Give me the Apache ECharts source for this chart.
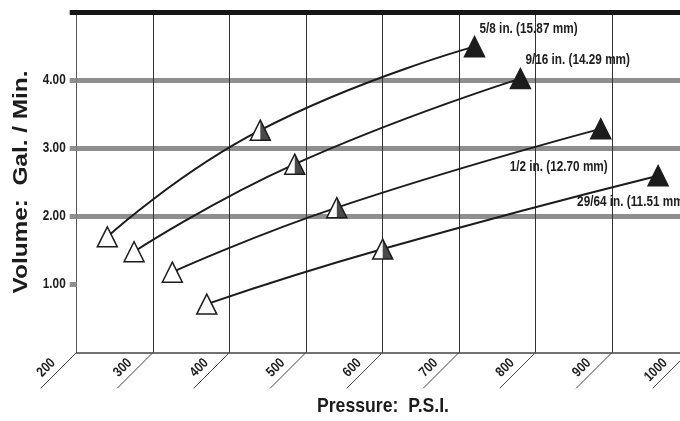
<!DOCTYPE html>
<html>
<head>
<meta charset="utf-8">
<script src="https://cdn.jsdelivr.net/npm/echarts@6/dist/echarts.min.js"></script>
<style>
  html, body { margin: 0; padding: 0; background: #fff; }
  #chart { width: 680px; height: 421px; }
</style>
</head>
<body>
<div id="chart"></div>
<script>
// Axis ticks
const pressureTicks = [200, 300, 400, 500, 600, 700, 800, 900, 1000];
const volumeTicks = [1, 2, 3, 4];

// Nozzle sizes
const nozzleNames = ['5/8 in. (15.87 mm)', '9/16 in. (14.29 mm)', '1/2 in. (12.70 mm)', '29/64 in. (11.51 mm)'];

// Flow readings per nozzle (P.S.I. vs Gal./Min.)
const pressure58 = [240, 440, 720];
const volume58 = [1.70, 3.27, 4.50];
const pressure916 = [275, 485, 780];
const volume916 = [1.48, 2.77, 4.03];
const pressure12 = [325, 540, 885];
const volume12 = [1.18, 2.13, 3.29];
const pressure2964 = [370, 600, 960];
const volume2964 = [0.71, 1.52, 2.60];

const pressures = [pressure58, pressure916, pressure12, pressure2964];
const volumes = [volume58, volume916, volume12, volume2964];

const SANS = '"Liberation Sans", Arial, sans-serif';
const INK = '#1c1c1c';
const BAND = '#8f8f8f';
const CONDENSE = 0.84; // horizontal squeeze to get a condensed bold face

// where each nozzle caption sits relative to its last marker
const captionPlacement = [
  { align: 'left', offset: [5, -18] },
  { align: 'left', offset: [5, -18] },
  { align: 'right', offset: [7, 38] },
  { align: 'left', offset: [-81, 26] }
];

function condensedText(x, y, text, align, size, rotation) {
  return {
    type: 'text',
    x: x,
    y: y,
    rotation: rotation || 0,
    scaleX: CONDENSE,
    style: {
      text: text,
      align: align,
      verticalAlign: 'middle',
      fontFamily: SANS,
      fontWeight: 'bold',
      fontSize: size,
      fill: INK
    }
  };
}

const series = [];

nozzleNames.forEach((name, i) => {
  const pts = pressures[i].map((p, k) => [p, volumes[i][k]]);
  const last = pts.length - 1;
  series.push({
    type: 'line',
    name: name,
    z: 2,
    smooth: 0.5,
    symbol: 'triangle',
    symbolSize: [20, 20],
    showAllSymbol: true,
    lineStyle: { color: INK, width: 2 },
    itemStyle: { color: '#fff', borderColor: INK, borderWidth: 1.5 },
    data: pts.map((pt, k) => (k === last ? { value: pt, itemStyle: { color: INK } } : { value: pt }))
  });
  // right half of the middle marker is filled
  series.push({
    type: 'scatter',
    z: 3,
    symbol: 'path://M0,0 L1,2 L0,2 Z',
    symbolSize: [10, 20],
    symbolOffset: [5, 0],
    itemStyle: { color: INK },
    data: [pts[1]]
  });
});

// nozzle captions beside the last reading of each curve
series.push({
  type: 'custom',
  z: 4,
  silent: true,
  data: nozzleNames.map((n, i) => [pressures[i][pressures[i].length - 1], volumes[i][volumes[i].length - 1], i]),
  renderItem: function (params, api) {
    const i = api.value(2);
    const p = api.coord([api.value(0), api.value(1)]);
    const pl = captionPlacement[i];
    return condensedText(p[0] + pl.offset[0], p[1] + pl.offset[1], nozzleNames[i], pl.align, 14);
  }
});

// slanted tick marks and rotated pressure labels along the bottom
series.push({
  type: 'custom',
  z: 1,
  silent: true,
  data: pressureTicks.map(v => [v, 0]),
  renderItem: function (params, api) {
    const v = api.value(0);
    const p = api.coord([v, 0]);
    return {
      type: 'group',
      children: [
        {
          type: 'line',
          shape: { x1: p[0], y1: p[1], x2: p[0] - 36, y2: p[1] + 36 },
          style: { stroke: '#444', lineWidth: 1 }
        },
        condensedText(p[0] - 23.5, p[1] + 8.5, String(v), 'right', 14, Math.PI / 4)
      ]
    };
  }
});

// volume labels left of the axis
series.push({
  type: 'custom',
  z: 1,
  silent: true,
  data: volumeTicks.map(v => [pressureTicks[0], v]),
  renderItem: function (params, api) {
    const v = api.value(1);
    const p = api.coord([api.value(0), v]);
    return condensedText(p[0] - 11, p[1], v.toFixed(2), 'right', 14);
  }
});

const chart = echarts.init(document.getElementById('chart'), null, { renderer: 'canvas' });
chart.setOption({
  animation: false,
  backgroundColor: '#fff',
  grid: { left: 76.7, top: 12.7, width: 612, height: 339.6, containLabel: false, outerBoundsMode: 'none' },
  xAxis: [
    {
      type: 'value',
      min: 200,
      max: 1000,
      interval: 100,
      axisLine: { show: true, onZero: false, lineStyle: { color: '#444', width: 1.5 } },
      axisTick: { show: false },
      axisLabel: { show: false },
      splitLine: { show: true, lineStyle: { color: '#333', width: 1 } }
    },
    {
      // heavy rule across the top of the plot
      type: 'value',
      position: 'top',
      min: 200,
      max: 1000,
      interval: 100,
      axisLine: { show: true, onZero: false, lineStyle: { color: '#161616', width: 5 } },
      axisTick: { show: false },
      axisLabel: { show: false },
      splitLine: { show: false }
    }
  ],
  yAxis: [
    {
      type: 'value',
      min: 0,
      max: 5,
      interval: 1,
      position: 'left',
      axisLine: { show: true, onZero: false, lineStyle: { color: '#555', width: 1 } },
      axisTick: { show: true, customValues: volumeTicks, length: 7, lineStyle: { color: BAND, width: 5 } },
      axisLabel: { show: false },
      splitLine: { show: true, lineStyle: { color: ['rgba(0,0,0,0)', BAND, BAND, BAND, BAND, BAND], width: 5 } }
    },
    {
      type: 'value',
      min: 0,
      max: 5,
      interval: 1,
      position: 'left',
      axisLine: { show: false },
      axisTick: { show: true, customValues: [5], length: 7, lineStyle: { color: '#161616', width: 5 } },
      axisLabel: { show: false },
      splitLine: { show: false }
    }
  ],
  graphic: [
    {
      type: 'text',
      x: 383,
      y: 406,
      scaleX: 0.84,
      style: {
        text: 'Pressure:  P.S.I.',
        align: 'center',
        verticalAlign: 'middle',
        fontFamily: SANS,
        fontWeight: 'bold',
        fontSize: 21,
        fill: INK
      }
    },
    {
      type: 'text',
      x: 21.5,
      y: 182,
      rotation: Math.PI / 2,
      scaleX: 1.16,
      style: {
        text: 'Volume:  Gal. / Min.',
        align: 'center',
        verticalAlign: 'middle',
        fontFamily: SANS,
        fontWeight: 'bold',
        fontSize: 21,
        fill: INK
      }
    }
  ],
  series: series
});
</script>
</body>
</html>
